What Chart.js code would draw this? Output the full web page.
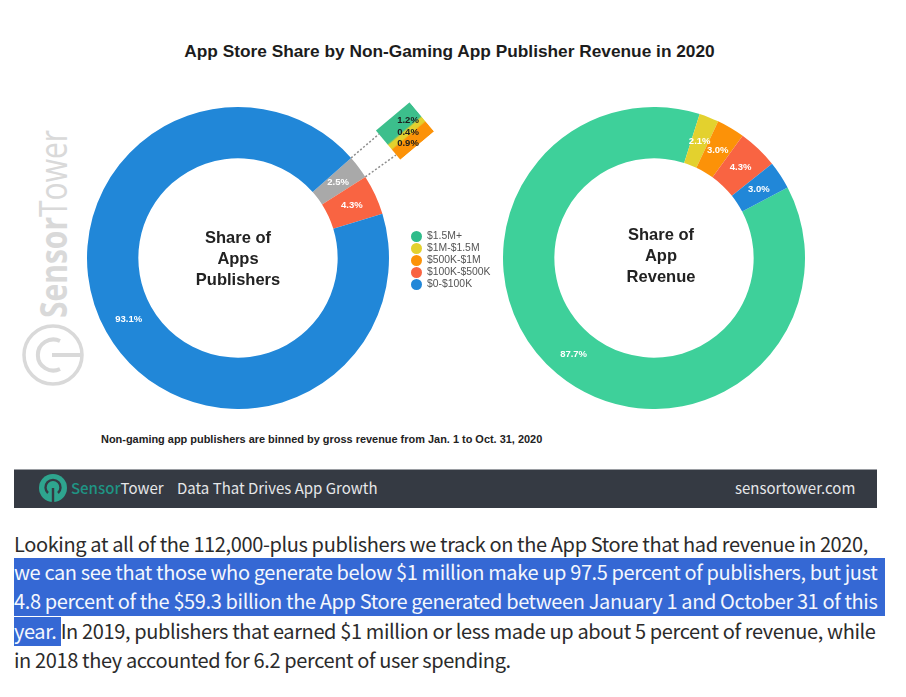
<!DOCTYPE html>
<html>
<head>
<meta charset="utf-8">
<script src="https://cdn.jsdelivr.net/npm/chart.js@4/dist/chart.umd.js"></script>
<style>
  html, body { margin: 0; padding: 0; background: #fff; }
  body { position: relative; width: 906px; height: 697px; overflow: hidden; font-family: "Liberation Sans", sans-serif; }
  .abs { position: absolute; white-space: nowrap; }
  canvas { position: absolute; }
  #title { left: 0; width: 899px; top: 41px; text-align: center; font-weight: bold; font-size: 17.3px; line-height: 20px; color: #1c1c1c; }
  #note { left: 101px; top: 433px; font-weight: bold; font-size: 10.95px; line-height: 12px; color: #222; }
  .center { font-weight: bold; font-size: 16.5px; line-height: 21px; color: #222; text-align: center; width: 120px; white-space: normal; }
  #legend { left: 411px; top: 230px; font-size: 10.4px; line-height: 12px; color: #555; }
  #legend div { height: 12px; }
  #legend i { display: inline-block; width: 11px; height: 11px; border-radius: 50%; margin-right: 5px; vertical-align: top; margin-top: 1px; }
  #footer { left: 14px; top: 469px; width: 863px; height: 39px; background: #353a43; border-top: 1px solid #9a9da2; box-sizing: border-box; }
  #tagline, #site { font-family: "Noto Sans CJK SC", sans-serif; font-size: 15px; line-height: 20px; color: #e6e7e9; top: 478px; }
  #tagline { left: 177px; }
  #site { left: 735px; }
  #brand { left: 71px; top: 478px; font-family: "Noto Sans CJK SC", sans-serif; font-size: 15px; line-height: 20px; color: #e6e7e9; }
  #brand b { color: #1f9484; font-weight: 500; }
  #article { left: 0; top: 530px; width: 906px; font-family: "Noto Sans CJK SC", sans-serif; font-size: 20px; letter-spacing: -0.38px; color: #2b2b2b; }
  #article div { position: absolute; left: 14px; height: 29px; line-height: 28px; white-space: pre; }
  #article .hl { background: #3568d4; color: #f4f7fd; }
  #article span.hl { display: inline-block; height: 29px; vertical-align: top; }
</style>
</head>
<body>
<svg class="abs" style="left:0;top:0" width="906" height="697">
  <g fill="none" stroke="#d9d9d9">
    <circle cx="53" cy="355" r="29" stroke-width="3.5"/>
    <path d="M 60 341 A 15.5 15.5 0 1 0 60 369" stroke-width="4"/>
    <path d="M 52 355 H 82" stroke-width="4"/>
  </g>
  <text transform="translate(67,318) rotate(-90)" textLength="188" lengthAdjust="spacingAndGlyphs" font-family="Open Sans" font-size="38" fill="#d9d9d9"><tspan font-weight="700">Sensor</tspan><tspan font-weight="400">Tower</tspan></text>
</svg>

<div id="title" class="abs">App Store Share by Non-Gaming App Publisher Revenue in 2020</div>

<canvas id="chartBreakout" width="44" height="38" style="left:383px;top:112px;transform:rotate(-40deg)"></canvas>
<canvas id="chartPublishers" width="476" height="302" style="left:0;top:107px"></canvas>
<canvas id="chartRevenue" width="302" height="302" style="left:503px;top:107px"></canvas>

<div class="abs center" style="left:178px;top:227px">Share of<br>Apps<br>Publishers</div>
<div class="abs center" style="left:601px;top:224px">Share of<br>App<br>Revenue</div>

<div id="legend" class="abs"></div>
<div id="note" class="abs">Non-gaming app publishers are binned by gross revenue from Jan. 1 to Oct. 31, 2020</div>

<div id="footer" class="abs"></div>
<svg class="abs" style="left:38px;top:474px" width="30" height="30">
  <circle cx="15" cy="14" r="14" fill="#2ea58f"/>
  <path d="M 10 19 A 7.5 7.5 0 1 1 20 19" fill="none" stroke="#353a43" stroke-width="2.4"/>
  <path d="M 15 14 V 28" stroke="#353a43" stroke-width="2.4"/>
</svg>
<div id="brand" class="abs"><b>Sensor</b>Tower</div>
<div id="tagline" class="abs">Data That Drives App Growth</div>
<div id="site" class="abs">sensortower.com</div>

<div id="article" class="abs">
  <div style="top:0">Looking at all of the 112,000-plus publishers we track on the App Store that had revenue in 2020,</div>
  <div class="hl" style="top:28px;width:871px">we can see that those who generate below $1 million make up 97.5 percent of publishers, but just</div>
  <div class="hl" style="top:57px;width:871px">4.8 percent of the $59.3 billion the App Store generated between January 1 and October 31 of this</div>
  <div style="top:87px"><span class="hl">year. </span>In 2019, publishers that earned $1 million or less made up about 5 percent of revenue, while</div>
  <div style="top:116px">in 2018 they accounted for 6.2 percent of user spending.</div>
</div>

<script>
const legendLabels = ["$1.5M+", "$1M-$1.5M", "$500K-$1M", "$100K-$500K", "$0-$100K"];
const legendColors = ["#2fbc8a", "#e3d12e", "#fc9208", "#f96442", "#2187d8"];

const publisherLabels = ["$500K+", "$100K-$500K", "$0-$100K"];
const publisherShare = [2.5, 4.3, 93.1];
const publisherColors = ["#a9a9a9", "#f96442", "#2187d8"];

const revenueLabels = ["$1.5M+", "$1M-$1.5M", "$500K-$1M", "$100K-$500K", "$0-$100K"];
const revenueShare = [87.7, 2.1, 3.0, 4.3, 3.0];
const revenueColors = ["#3ed09a", "#e3d12e", "#fc9208", "#f96442", "#2187d8"];

const breakoutLabels = ["$1.5M+", "$1M-$1.5M", "$500K-$1M"];
const breakoutShare = [1.2, 0.4, 0.9];
const breakoutColors = ["#3cbf8c", "#e3d12e", "#fc9208"];

Chart.defaults.animation = false;

// percent labels on top of the slices
const sliceLabels = {
    id: "sliceLabels",
    afterDatasetsDraw(chart) {
        const ctx = chart.ctx;
        const values = chart.data.datasets[0].data;
        ctx.save();
        ctx.font = "bold 9.5px 'Liberation Sans'";
        ctx.fillStyle = "#fff";
        ctx.textAlign = "center";
        ctx.textBaseline = "middle";
        chart.getDatasetMeta(0).data.forEach((arc, i) => {
            const p = arc.tooltipPosition();
            ctx.fillText(values[i].toFixed(1) + "%", p.x, p.y);
        });
        ctx.restore();
    },
};

// dotted lines from the grey slice to the small stacked bar, and the bar's labels
const breakoutLinks = {
    id: "breakoutLinks",
    afterDatasetsDraw(chart) {
        const ctx = chart.ctx;
        const grey = chart.getDatasetMeta(0).data[0];
        const ends = [[379, 27], [396, 48]];
        const angles = [grey.startAngle, grey.endAngle];
        ctx.save();
        ctx.strokeStyle = "#8c8c8c";
        ctx.lineWidth = 1.5;
        ctx.setLineDash([2, 2]);
        angles.forEach((a, i) => {
            ctx.beginPath();
            ctx.moveTo(grey.x + Math.cos(a) * grey.outerRadius, grey.y + Math.sin(a) * grey.outerRadius);
            ctx.lineTo(ends[i][0], ends[i][1]);
            ctx.stroke();
        });
        ctx.setLineDash([]);
        ctx.font = "bold 9.5px 'Liberation Sans'";
        ctx.fillStyle = "#1d1d1d";
        ctx.textAlign = "center";
        ctx.textBaseline = "middle";
        const labelY = [13, 25, 36];
        breakoutShare.forEach((v, i) => {
            ctx.fillText(v.toFixed(1) + "%", 408, labelY[i]);
        });
        ctx.restore();
    },
};

function doughnutConfig(labels, values, colors, startDeg, plugins) {
    return {
        type: "doughnut",
        data: {
            labels: labels,
            datasets: [{ data: values, backgroundColor: colors, borderWidth: 0 }],
        },
        options: {
            responsive: false,
            rotation: startDeg,
            cutout: "66%",
            plugins: { legend: { display: false }, tooltip: { enabled: false } },
        },
        plugins: plugins,
    };
}

new Chart(
    document.getElementById("chartPublishers"),
    doughnutConfig(publisherLabels, publisherShare, publisherColors, 48.5, [sliceLabels, breakoutLinks])
);
new Chart(
    document.getElementById("chartRevenue"),
    doughnutConfig(revenueLabels, revenueShare, revenueColors, 62.2, [sliceLabels])
);

new Chart(document.getElementById("chartBreakout"), {
    type: "bar",
    data: {
        labels: ["Share"],
        datasets: breakoutLabels.map((label, i) => ({
            label: label,
            data: [breakoutShare[i]],
            backgroundColor: breakoutColors[i],
            barPercentage: 1,
            categoryPercentage: 1,
        })),
    },
    options: {
        responsive: false,
        scales: {
            x: { display: false, stacked: true },
            y: { display: false, stacked: true, reverse: true, min: 0, max: 2.5 },
        },
        plugins: { legend: { display: false }, tooltip: { enabled: false } },
    },
});

document.getElementById("legend").innerHTML = legendLabels
    .map((label, i) => `<div><i style="background:${legendColors[i]}"></i>${label}</div>`)
    .join("");
</script>
</body>
</html>
